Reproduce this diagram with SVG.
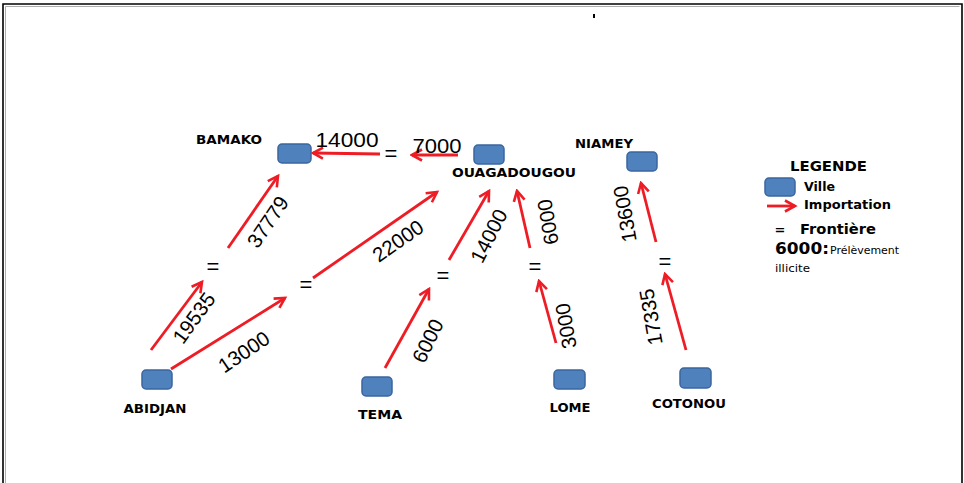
<svg xmlns="http://www.w3.org/2000/svg" width="964" height="483" viewBox="0 0 964 483">
<style>
.city{fill:#4f81bd;stroke:#3a66a0;stroke-width:1.5}
.lbl{font-family:"DejaVu Sans",sans-serif;font-weight:bold;font-size:12.5px;fill:#000;text-anchor:middle}
.num{font-family:"Liberation Sans",Arial,sans-serif;font-size:20.5px;fill:#000;text-anchor:middle}
.eq{font-family:"Liberation Sans",Arial,sans-serif;font-size:22px;fill:#000;text-anchor:middle}
.arr{stroke:#ee1c25;stroke-width:2.8;fill:none;marker-end:url(#ah)}
.leg{font-family:"DejaVu Sans",sans-serif;fill:#000}
</style>
<defs>
<marker id="ah" markerUnits="userSpaceOnUse" markerWidth="14" markerHeight="14" viewBox="-1 -7 13 14" refX="10" refY="0" orient="auto">
<path d="M0,-5.5 L10,0 L0,5.5" fill="none" stroke="#ee1c25" stroke-width="2.6" stroke-linejoin="miter"/>
</marker>
</defs>
<rect width="964" height="483" fill="#fff"/>
<path d="M3,483 V4 H962 V483" fill="none" stroke="#000" stroke-width="1.6"/>
<path d="M5.5,483 V6.5 H959.5" fill="none" stroke="#999" stroke-width="0.8"/>
<rect x="593" y="14" width="2" height="4" fill="#000"/>

<g id="connectors">
<path class="arr" d="M380,154 L313,153"/>
<path class="arr" d="M458,155 L412,155"/>
<path class="arr" d="M151,350 L202,282"/>
<path class="arr" d="M228,248 L278,176"/>
<path class="arr" d="M171,369 L285,298"/>
<path class="arr" d="M313,278 L437,192"/>
<path class="arr" d="M385,368 L429,289"/>
<path class="arr" d="M449,260 L489,191"/>
<path class="arr" d="M530,248 L517,191"/>
<path class="arr" d="M556,343 L539,281"/>
<path class="arr" d="M656,242 L641,183"/>
<path class="arr" d="M686,350 L665,274"/>

<text class="num" x="347" y="147" textLength="63" lengthAdjust="spacingAndGlyphs" style="font-size:20px">14000</text>
<text class="num" x="437" y="153" textLength="49" lengthAdjust="spacingAndGlyphs" style="font-size:20px">7000</text>
<text class="num" transform="translate(194,318) rotate(-54)" y="7">19535</text>
<text class="num" transform="translate(268,222) rotate(-56)" y="7">37779</text>
<text class="num" transform="translate(244,352) rotate(-34)" y="7">13000</text>
<text class="num" transform="translate(398,241) rotate(-35)" y="7">22000</text>
<text class="num" transform="translate(428,341) rotate(-64)" y="7">6000</text>
<text class="num" transform="translate(489,236) rotate(-63)" y="7">14000</text>
<text class="num" transform="translate(548,222) rotate(-100)" y="7">6000</text>
<text class="num" transform="translate(566,326) rotate(-100)" y="7">3000</text>
<text class="num" transform="translate(625,214) rotate(-100)" y="7">13600</text>
<text class="num" transform="translate(651,317) rotate(-100)" y="7">17335</text>

<text class="eq" x="391" y="161">=</text>
<text class="eq" x="213" y="274">=</text>
<text class="eq" x="306" y="292">=</text>
<text class="eq" x="443" y="283">=</text>
<text class="eq" x="535" y="274">=</text>
<text class="eq" x="665" y="269">=</text>
</g>

<g id="bamako">
<rect class="city" x="278" y="144" width="33" height="19" rx="4"/>
<text class="lbl" x="229" y="144" textLength="66" lengthAdjust="spacingAndGlyphs">BAMAKO</text>
</g>
<g id="ouagadougou">
<rect class="city" x="474" y="145" width="30" height="19" rx="4"/>
<text class="lbl" x="514" y="177" textLength="124" lengthAdjust="spacingAndGlyphs">OUAGADOUGOU</text>
</g>
<g id="niamey">
<rect class="city" x="627" y="152" width="30" height="19" rx="4"/>
<text class="lbl" x="604" y="148" textLength="58" lengthAdjust="spacingAndGlyphs">NIAMEY</text>
</g>
<g id="abidjan">
<rect class="city" x="142" y="370" width="30" height="19" rx="4"/>
<text class="lbl" x="155" y="413" textLength="63" lengthAdjust="spacingAndGlyphs">ABIDJAN</text>
</g>
<g id="tema">
<rect class="city" x="362" y="377" width="30" height="19" rx="4"/>
<text class="lbl" x="380" y="419" textLength="44" lengthAdjust="spacingAndGlyphs">TEMA</text>
</g>
<g id="lome">
<rect class="city" x="554" y="370" width="31" height="19" rx="4"/>
<text class="lbl" x="570" y="412" textLength="41" lengthAdjust="spacingAndGlyphs">LOME</text>
</g>
<g id="cotonou">
<rect class="city" x="680" y="368" width="31" height="20" rx="4"/>
<text class="lbl" x="689" y="408" textLength="74" lengthAdjust="spacingAndGlyphs">COTONOU</text>
</g>

<g id="legend">
<text class="leg" x="790" y="171" font-weight="bold" font-size="14" textLength="77" lengthAdjust="spacingAndGlyphs">LEGENDE</text>
<rect class="city" x="765" y="178" width="30" height="18" rx="4"/>
<text class="leg" x="804" y="191" font-weight="bold" font-size="13" textLength="31" lengthAdjust="spacingAndGlyphs">Ville</text>
<path class="arr" d="M767,206 L795,206"/>
<text class="leg" x="804" y="209" font-weight="bold" font-size="13" textLength="87" lengthAdjust="spacingAndGlyphs">Importation</text>
<text class="leg" x="780" y="234" font-weight="bold" font-size="13" text-anchor="middle">=</text>
<text class="leg" x="800" y="234" font-weight="bold" font-size="13.5" textLength="76" lengthAdjust="spacingAndGlyphs">Frontière</text>
<text class="leg" x="775" y="254" font-weight="bold" font-size="15" textLength="54" lengthAdjust="spacingAndGlyphs">6000:</text>
<text class="leg" x="830" y="254" font-size="11" textLength="69" lengthAdjust="spacingAndGlyphs">Prélèvement</text>
<text class="leg" x="775" y="272" font-size="11" textLength="35" lengthAdjust="spacingAndGlyphs">illicite</text>
</g>
</svg>
